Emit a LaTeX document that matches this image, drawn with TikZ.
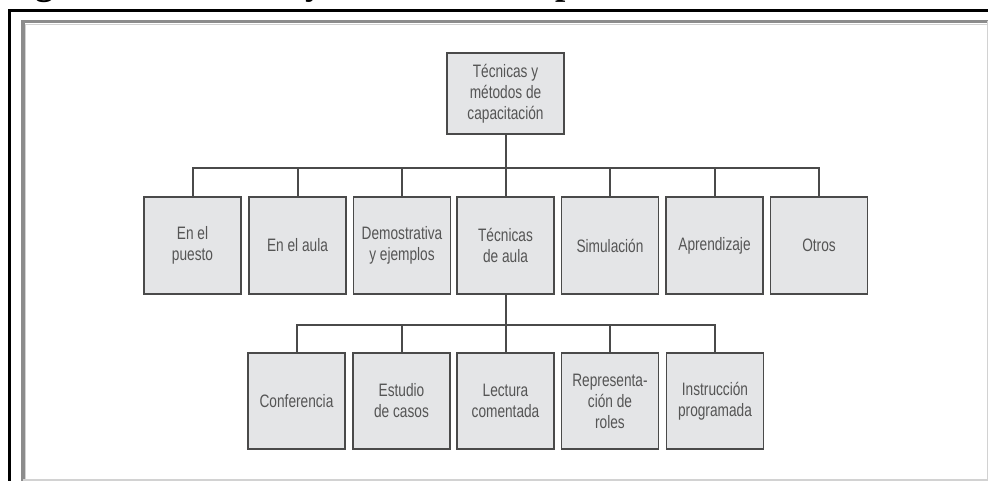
\documentclass[tikz,border=0pt]{standalone}
\usepackage{fontspec}
\setmainfont{Liberation Serif}
\newfontfamily\boxfont[FakeStretch=0.76]{Liberation Sans}
\definecolor{boxline}{HTML}{4A4A4A}
\definecolor{boxfill}{HTML}{E4E5E7}
\definecolor{boxtext}{HTML}{555555}
\definecolor{framegray}{HTML}{8C8C8C}
\definecolor{framelight}{HTML}{D2D2D2}
\begin{document}
\begin{tikzpicture}[x=1pt,y=-1pt,
  stepbox/.style={draw=boxline, line width=1.8pt, fill=boxfill,
    minimum width=97pt, minimum height=97pt, inner sep=0pt,
    align=center, text=boxtext, font=\boxfont\fontsize{18}{21}\selectfont},
  link/.style={draw=boxline, line width=2pt}]
\useasboundingbox (0,0) rectangle (988,481);
\clip (0,0) rectangle (988,481);

% caption, mostly above the page edge
\node[anchor=base west, inner sep=0pt, font=\bfseries\fontsize{37}{40}\selectfont]
  (caption) at (2,-5) {Figura 1. Técnicas y métodos de capacitación};

% outer page frame and inner figure frame
\draw[line width=2.2pt, black] (9.5,482) -- (9.5,10.5) -- (990,10.5);
\draw[line width=3.5pt, framegray] (23,482) -- (23,21.5) -- (990,21.5);
\draw[line width=1.2pt, framelight] (25.5,482) -- (25.5,24.5) -- (990,24.5);
\draw[line width=1.5pt, framelight] (23,480) -- (990,480);
\draw[line width=1pt, framelight] (987,21) -- (987,481);

% root
\node[stepbox, minimum width=117pt, minimum height=81pt] (root) at (505.5,93.5)
  {Técnicas y\\métodos de\\capacitación};

% first level
\node[stepbox] (puesto) at (192.5,245.5) {En el\\puesto};
\node[stepbox] (aula)   at (297.5,245.5) {En el aula};
\node[stepbox] (demo)   at (402,245.5)   {Demostrativa\\y ejemplos};
\node[stepbox] (tecaula) at (505.5,245.5) {Técnicas\\de aula};
\node[stepbox] (simul)  at (610,245.5)   {Simulación};
\node[stepbox] (aprend) at (714.5,245.5) {Aprendizaje};
\node[stepbox] (otros)  at (819,245.5)   {Otros};

% second level
\node[stepbox, minimum height=96pt] (conf)   at (296.5,401) {Conferencia};
\node[stepbox, minimum height=96pt] (casos)  at (401.5,401) {Estudio\\de casos};
\node[stepbox, minimum height=96pt] (lect)   at (505.5,401) {Lectura\\comentada};
\node[stepbox, minimum height=96pt] (roles)  at (610,401)   {Representa-\\ción de\\roles};
\node[stepbox, minimum height=96pt] (instr)  at (715,401)   {Instrucción\\programada};

% connectors
\draw[link] (root.south) -- ++(0,33) coordinate (busA);
\foreach \n in {puesto,aula,demo,tecaula,simul,aprend,otros}
  \draw[link] (\n.north) |- (busA);
\draw[link] (tecaula.south) -- ++(0,30) coordinate (busB);
\foreach \n in {conf,casos,lect,roles,instr}
  \draw[link] (\n.north) |- (busB);
\end{tikzpicture}
\end{document}
